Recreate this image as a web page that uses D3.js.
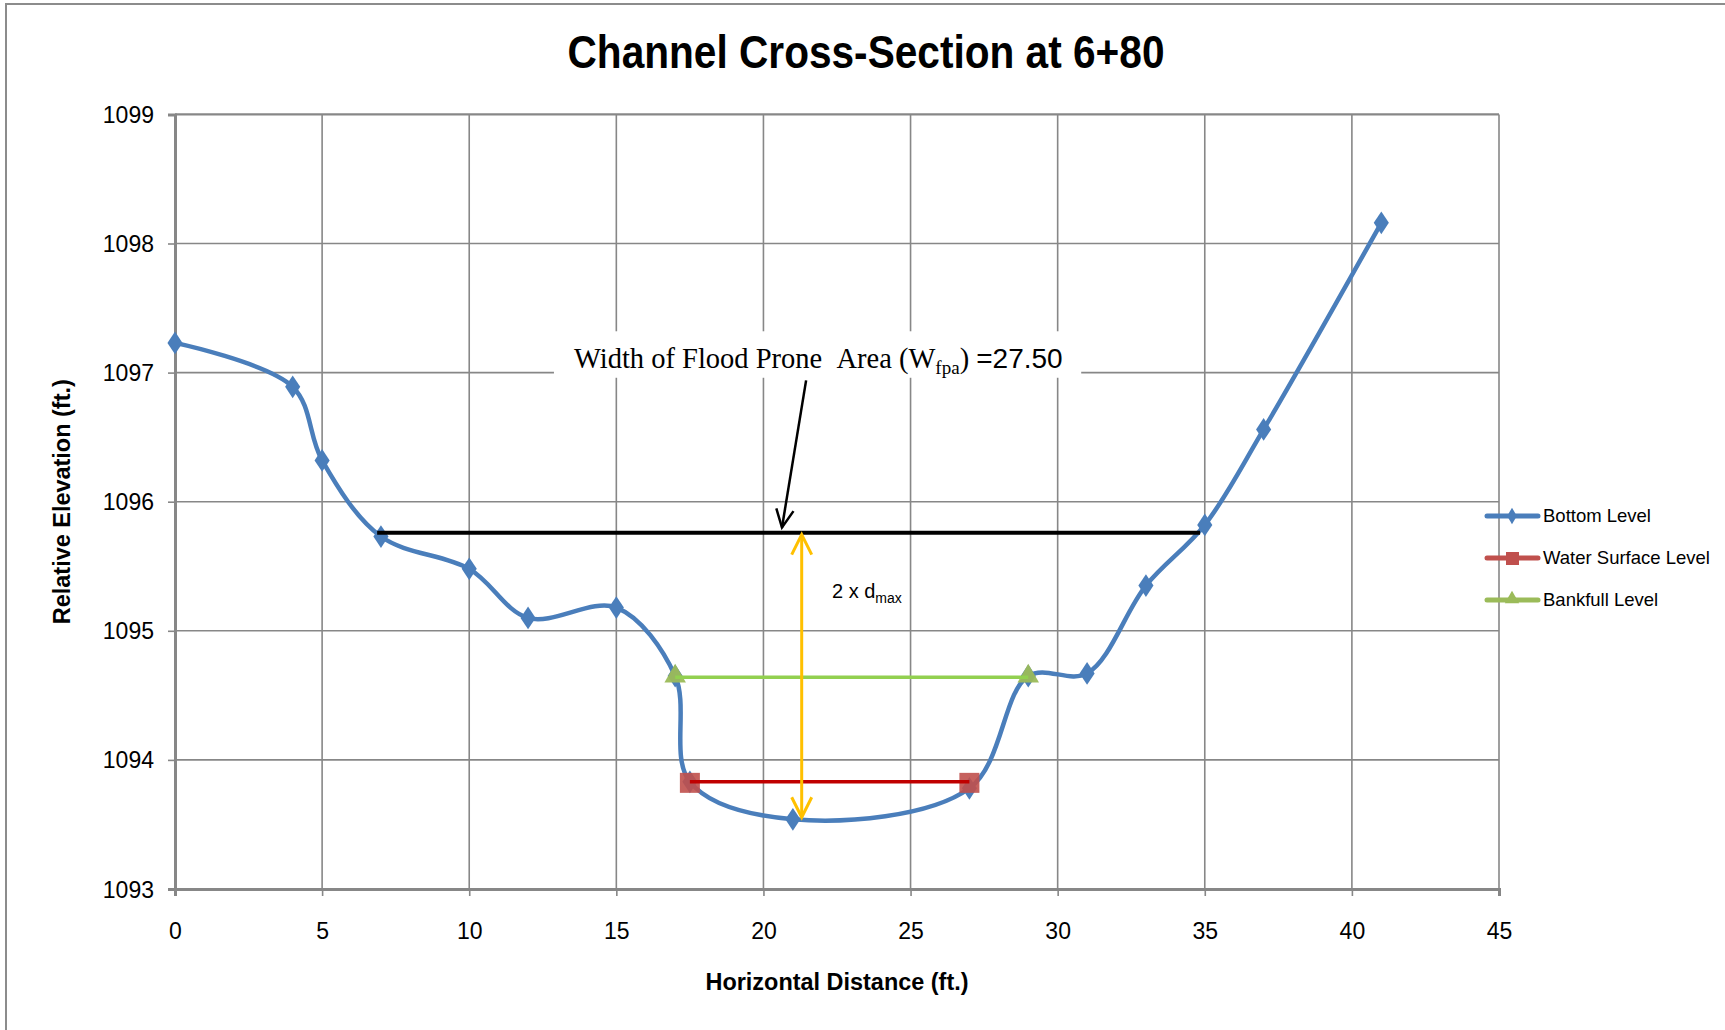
<!DOCTYPE html>
<html>
<head>
<meta charset="utf-8">
<script src="https://cdn.jsdelivr.net/npm/d3@7"></script>
<style>
  html, body { margin: 0; padding: 0; background: #fff; }
  svg { display: block; }
</style>
</head>
<body>
<svg id="chart" width="1725" height="1030"></svg>
<script>
// ---- Data ----
const bottomX = [0, 4, 5, 7, 10, 12, 15, 17, 17.5, 21, 27, 29, 31, 33, 35, 37, 41];
const bottomY = [1097.23, 1096.89, 1096.32, 1095.73, 1095.48, 1095.10, 1095.18, 1094.65, 1093.83, 1093.54, 1093.78, 1094.65, 1094.67, 1095.35, 1095.82, 1096.56, 1098.16];
const waterX = [17.5, 27];
const waterY = [1093.83, 1093.83];
const bankX = [17, 29];
const bankY = [1094.64, 1094.64];
const floodX = [6.87, 34.84];
const floodY = [1095.76, 1095.76];
const dmaxX = [21.3, 21.3];
const dmaxY = [1095.76, 1093.54];
const xTicks = [0, 5, 10, 15, 20, 25, 30, 35, 40, 45];
const yTicks = [1093, 1094, 1095, 1096, 1097, 1098, 1099];
const seriesNames = ["Bottom Level", "Water Surface Level", "Bankfull Level"];
const titleText = "Channel Cross-Section at 6+80";
const xTitle = "Horizontal Distance (ft.)";
const yTitle = "Relative Elevation (ft.)";

// ---- Layout ----
const svg = d3.select("#chart");
const L = 175, R = 1499, T = 114.4, B = 889;
const x = d3.scaleLinear().domain([0, 45]).range([L, R]);
const y = d3.scaleLinear().domain([1093, 1099]).range([B, T]);

const sansFont = "'Liberation Sans', Arial, sans-serif";
const narrowBold = "'Liberation Sans Narrow', 'Liberation Sans', Arial, sans-serif";

// chart frame
svg.append("rect").attr("x", 6).attr("y", 4).attr("width", 1740).attr("height", 1040)
  .attr("fill", "none").attr("stroke", "#8c8c8c").attr("stroke-width", 2);

// title
svg.append("text").attr("x", 866).attr("y", 68).attr("text-anchor", "middle")
  .attr("font-family", narrowBold).attr("font-weight", "bold").attr("font-size", 46)
  .attr("textLength", 597).attr("lengthAdjust", "spacingAndGlyphs")
  .text(titleText);

// gridlines
const grid = svg.append("g");
grid.selectAll("line.v").data(xTicks.slice(1)).join("line")
  .attr("x1", d => x(d)).attr("x2", d => x(d)).attr("y1", T).attr("y2", B)
  .attr("stroke", "#878787").attr("stroke-width", 1.6);
grid.selectAll("line.h").data(yTicks.slice(1)).join("line")
  .attr("x1", L).attr("x2", R).attr("y1", d => y(d)).attr("y2", d => y(d))
  .attr("stroke", "#878787").attr("stroke-width", d => d === 1099 ? 2.4 : 1.6);

// axes
const xAxis = d3.axisBottom(x).tickValues(xTicks).tickSize(7).tickPadding(27).tickFormat(d3.format("d"));
const yAxis = d3.axisLeft(y).tickValues(yTicks).tickSize(7).tickPadding(14).tickFormat(d3.format("d"));
const gx = svg.append("g").attr("transform", `translate(0,${B})`).call(xAxis);
const gy = svg.append("g").attr("transform", `translate(${L},0)`).call(yAxis);
[gx, gy].forEach(g => {
  g.select(".domain").attr("stroke", "#878787").attr("stroke-width", 3);
  g.selectAll(".tick line").attr("stroke", "#878787").attr("stroke-width", 1.6);
  g.selectAll(".tick text").attr("fill", "#000").attr("font-family", sansFont).attr("font-size", 23);
});
gy.selectAll(".tick text").attr("dy", "0.35em");

// axis titles
svg.append("text").attr("x", (L + R) / 2).attr("y", 990).attr("text-anchor", "middle")
  .attr("font-family", narrowBold).attr("font-weight", "bold").attr("font-size", 23)
  .attr("textLength", 263).attr("lengthAdjust", "spacingAndGlyphs").text(xTitle);
svg.append("text").attr("transform", `translate(70,${(T + B) / 2}) rotate(-90)`).attr("text-anchor", "middle")
  .attr("font-family", narrowBold).attr("font-weight", "bold").attr("font-size", 23)
  .attr("textLength", 245).attr("lengthAdjust", "spacingAndGlyphs").text(yTitle);

// ---- Series ----
const blue = "#4a7ebb", redM = "#c0504d", greenM = "#9bbb59";
const bottom = bottomX.map((v, i) => [v, bottomY[i]]);
const line = d3.line().x(d => x(d[0])).y(d => y(d[1])).curve(d3.curveCatmullRom.alpha(0.5));
svg.append("path").datum(bottom).attr("d", line).attr("fill", "none")
  .attr("stroke", blue).attr("stroke-width", 4.5).attr("stroke-linejoin", "round");
const diamond = d3.symbol().type(d3.symbolDiamond).size(150);
svg.append("g").selectAll("path").data(bottom).join("path")
  .attr("d", diamond).attr("transform", d => `translate(${x(d[0])},${y(d[1])}) scale(1.15,1)`)
  .attr("fill", blue);

// bankfull
const bank = bankX.map((v, i) => [v, bankY[i]]);
const tri = d3.symbol().type(d3.symbolTriangle).size(200);
svg.append("g").selectAll("path").data(bank).join("path")
  .attr("d", tri).attr("transform", d => `translate(${x(d[0])},${y(d[1]) - 1})`)
  .attr("fill", greenM).attr("opacity", 0.95);
svg.append("line").attr("x1", x(bankX[0])).attr("x2", x(bankX[1])).attr("y1", y(bankY[0])).attr("y2", y(bankY[1]))
  .attr("stroke", "#92d050").attr("stroke-width", 3.5);

// water surface
const water = waterX.map((v, i) => [v, waterY[i]]);
svg.append("g").selectAll("rect").data(water).join("rect")
  .attr("x", d => x(d[0]) - 10).attr("y", d => y(d[1]) - 9).attr("width", 20).attr("height", 20)
  .attr("fill", redM).attr("opacity", 0.9);
svg.append("line").attr("x1", x(waterX[0])).attr("x2", x(waterX[1])).attr("y1", y(waterY[0])).attr("y2", y(waterY[1]))
  .attr("stroke", "#c00000").attr("stroke-width", 3.5);

// flood prone line
svg.append("line").attr("x1", x(floodX[0])).attr("x2", x(floodX[1])).attr("y1", y(floodY[0])).attr("y2", y(floodY[1]))
  .attr("stroke", "#000").attr("stroke-width", 4);

// 2 x dmax double arrow
const ax = x(dmaxX[0]), ay1 = y(dmaxY[0]) + 2, ay2 = y(dmaxY[1]) - 2;
const yel = "#ffc000";
svg.append("line").attr("x1", ax).attr("x2", ax).attr("y1", ay1).attr("y2", ay2)
  .attr("stroke", yel).attr("stroke-width", 3);
svg.append("path").attr("d", `M${ax - 10},${ay1 + 20}L${ax},${ay1}L${ax + 10},${ay1 + 20}`)
  .attr("fill", "none").attr("stroke", yel).attr("stroke-width", 3);
svg.append("path").attr("d", `M${ax - 10},${ay2 - 20}L${ax},${ay2}L${ax + 10},${ay2 - 20}`)
  .attr("fill", "none").attr("stroke", yel).attr("stroke-width", 3);
const dt = svg.append("text").attr("x", x(22.33)).attr("y", 598)
  .attr("font-family", sansFont).attr("font-size", 20).attr("fill", "#000");
dt.append("tspan").text("2 x d");
dt.append("tspan").attr("font-size", 14).attr("dy", 5).text("max");

// annotation box
const bx1 = x(12.88), bx2 = x(30.8), by1 = y(1097.32), by2 = y(1096.96);
svg.append("rect").attr("x", bx1).attr("y", by1).attr("width", bx2 - bx1).attr("height", by2 - by1).attr("fill", "#fff");
const at = svg.append("text").attr("x", 574).attr("y", 368)
  .attr("font-family", "'Liberation Serif', 'Times New Roman', serif").attr("font-size", 28.5).attr("fill", "#000");
at.append("tspan").text("Width of Flood Prone\u00a0\u00a0Area (W");
at.append("tspan").attr("font-size", 19).attr("dy", 6).text("fpa");
at.append("tspan").attr("dy", -6).text(") ");
at.append("tspan").attr("font-family", sansFont).attr("font-size", 28).text("=27.50");

// black pointer arrow
const p1x = x(21.45), p1y = y(1096.94), p2x = x(20.63), p2y = y(1095.8);
svg.append("line").attr("x1", p1x).attr("y1", p1y).attr("x2", p2x).attr("y2", p2y)
  .attr("stroke", "#000").attr("stroke-width", 2.5);
const ang = Math.atan2(p2y - p1y, p2x - p1x);
const hl = 20, ha = 0.45;
svg.append("path").attr("d",
  `M${p2x - hl * Math.cos(ang - ha)},${p2y - hl * Math.sin(ang - ha)}L${p2x},${p2y}L${p2x - hl * Math.cos(ang + ha)},${p2y - hl * Math.sin(ang + ha)}`)
  .attr("fill", "none").attr("stroke", "#000").attr("stroke-width", 2.5);

// ---- Legend ----
const legY = [516, 558, 600];
const legColors = [blue, redM, greenM];
const leg = svg.append("g");
seriesNames.forEach((name, i) => {
  const g = leg.append("g").attr("transform", `translate(0,${legY[i]})`);
  g.append("line").attr("x1", 1487).attr("x2", 1538).attr("y1", 0).attr("y2", 0)
    .attr("stroke", legColors[i]).attr("stroke-width", 5).attr("stroke-linecap", "round");
  if (i === 0) g.append("path").attr("d", d3.symbol().type(d3.symbolDiamond).size(80)).attr("transform", "translate(1512,0)").attr("fill", blue);
  if (i === 1) g.append("rect").attr("x", 1506).attr("y", -6).attr("width", 13).attr("height", 13).attr("fill", redM);
  if (i === 2) g.append("path").attr("d", d3.symbol().type(d3.symbolTriangle).size(90)).attr("transform", "translate(1512,-1)").attr("fill", greenM);
  g.append("text").attr("x", 1543).attr("y", 0).attr("dy", "0.35em")
    .attr("font-family", sansFont).attr("font-size", 18.5).attr("fill", "#000").text(name);
});
</script>
</body>
</html>
